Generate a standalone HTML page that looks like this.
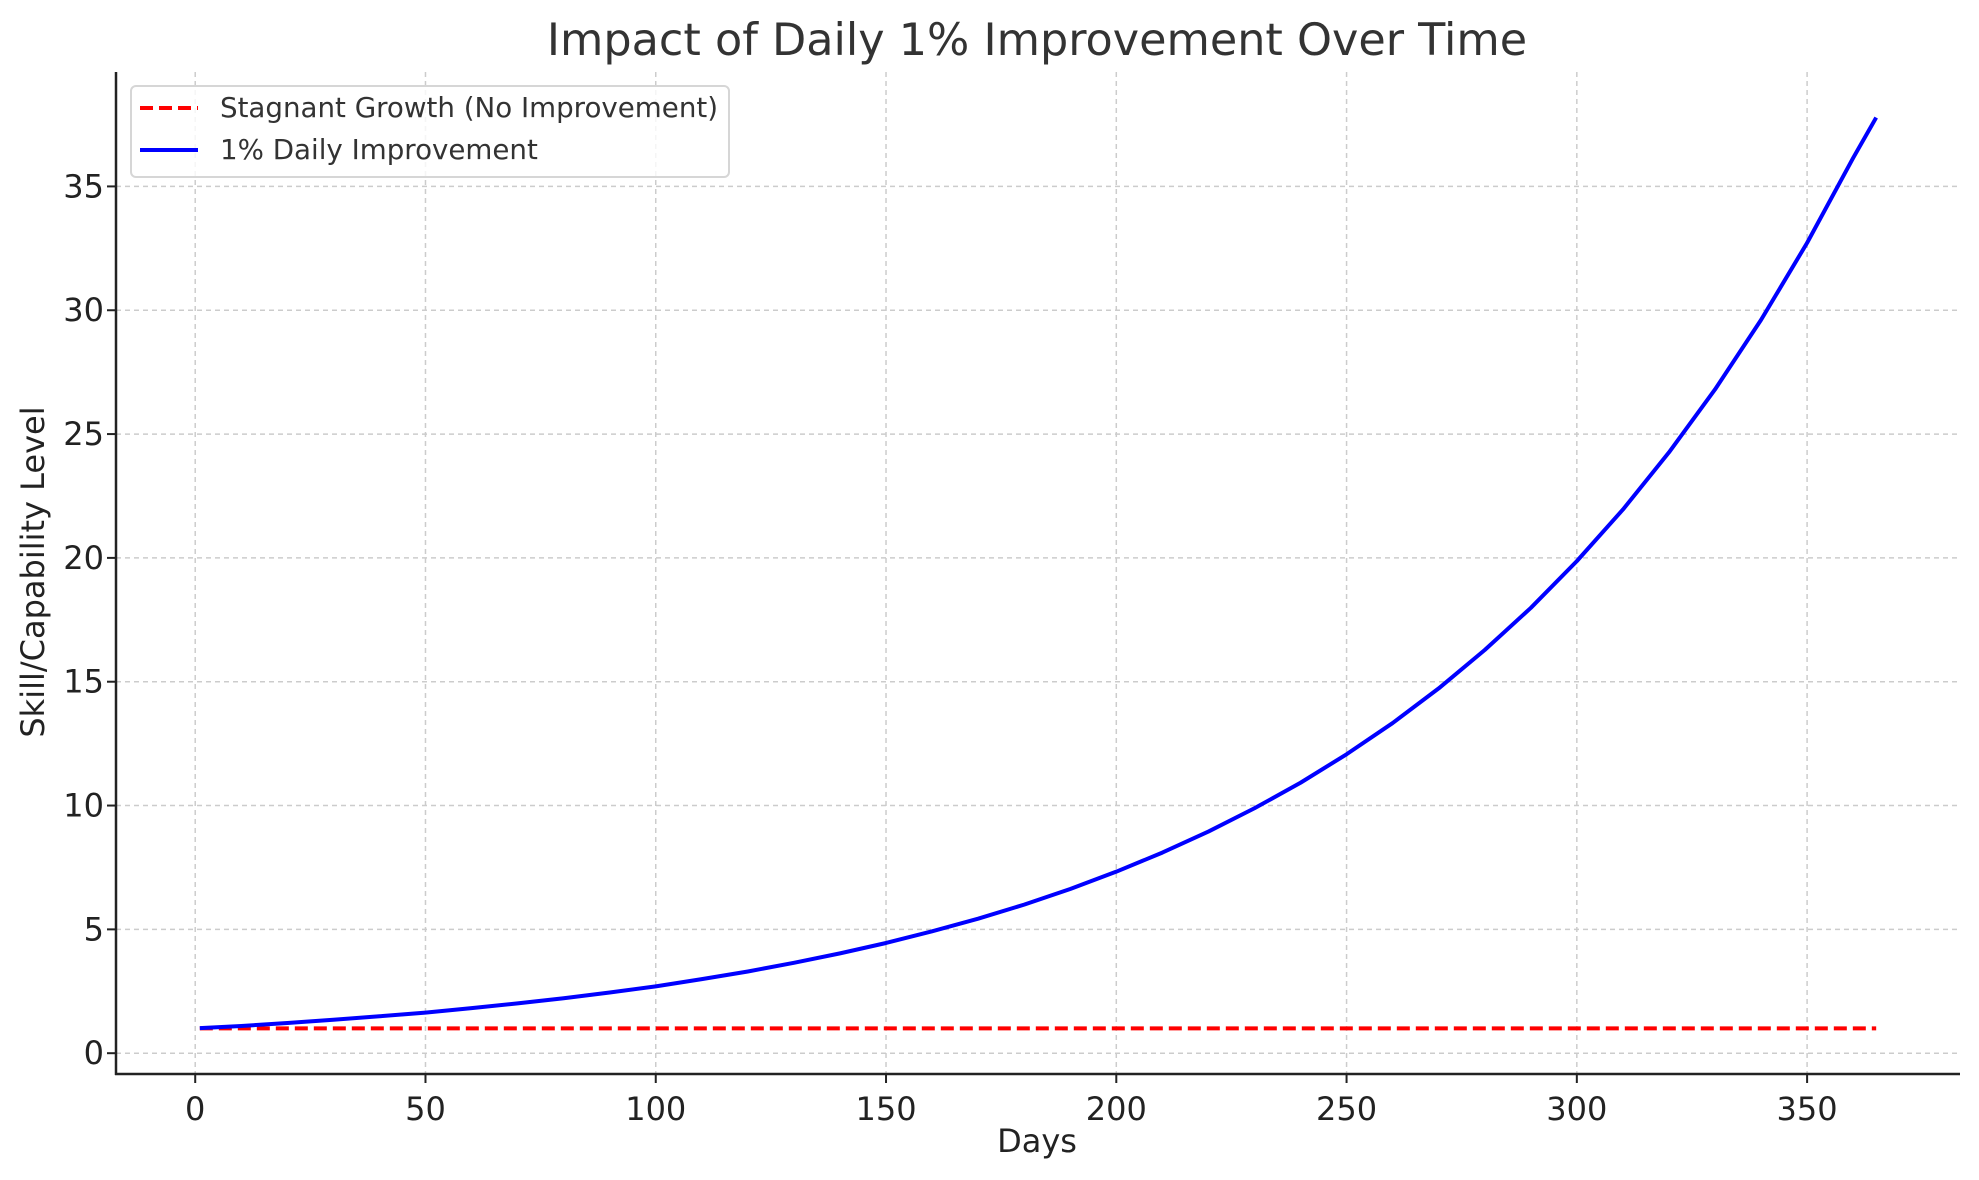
<!DOCTYPE html>
<html><head><meta charset="utf-8"><style>
html,body{margin:0;padding:0;background:#fff;}
svg{display:block;font-family:"DejaVu Sans","Liberation Sans",sans-serif;}
</style></head><body>
<svg id="chart" width="1979" height="1180" viewBox="0 0 1979 1180" xmlns="http://www.w3.org/2000/svg">
<rect width="1979" height="1180" fill="#fff"/>
<text x="1037" y="55" text-anchor="middle" font-size="44.5" fill="#333">Impact of Daily 1% Improvement Over Time</text>
<g id="grid"></g>
<g id="series"></g>
<g id="axes"></g>
<text x="1037" y="1152" text-anchor="middle" font-size="32" fill="#222">Days</text>
<text transform="translate(44,572) rotate(-90)" text-anchor="middle" font-size="32" fill="#222">Skill/Capability Level</text>
<g>
<rect x="131" y="86" width="598" height="91" rx="5" fill="#fff" fill-opacity="0.8" stroke="#d6d6d6" stroke-width="2"/>
<line x1="140" y1="108" x2="198" y2="108" stroke="#ff0000" stroke-width="4" stroke-dasharray="13,6"/>
<text x="220" y="117" font-size="27.7" fill="#333">Stagnant Growth (No Improvement)</text>
<line x1="140" y1="150" x2="198" y2="150" stroke="#0000ff" stroke-width="4"/>
<text x="220" y="159" font-size="27.7" fill="#333">1% Daily Improvement</text>
</g>
</svg>
<script>
const days = [1,10,20,30,40,50,60,70,80,90,100,110,120,130,140,150,160,170,180,190,200,210,220,230,240,250,260,270,280,290,300,310,320,330,340,350,360,365];
const improvement = [1.01,1.10,1.22,1.35,1.49,1.64,1.82,2.01,2.22,2.45,2.70,2.99,3.30,3.65,4.03,4.45,4.92,5.43,6.00,6.63,7.33,8.10,8.95,9.89,10.92,12.07,13.33,14.73,16.28,17.98,19.87,21.95,24.26,26.80,29.61,32.72,36.15,37.78];
const stagnantDays = [1,365];
const stagnant = [1,1];
const xTicks = [0,50,100,150,200,250,300,350];
const yTicks = [0,5,10,15,20,25,30,35];

const NS="http://www.w3.org/2000/svg";
const L=116,R=1960,T=72,B=1074;
const xMin=-17.2,xMax=383.2,yMin=-0.84,yMax=39.62;
function xs(v){return L+(v-xMin)/(xMax-xMin)*(R-L);}
function ys(v){return B-(v-yMin)/(yMax-yMin)*(B-T);}
function mk(tag,attrs,parent){const e=document.createElementNS(NS,tag);for(const k in attrs)e.setAttribute(k,attrs[k]);parent.appendChild(e);return e;}
const grid=document.getElementById('grid'),axes=document.getElementById('axes'),series=document.getElementById('series');

xTicks.forEach(t=>{
  const x=xs(t);
  const g=mk('line',{x1:x,y1:T,x2:x,y2:B,stroke:'#cccccc','stroke-width':1.5,'stroke-dasharray':'5,4'},grid);
  
  
  const tk=mk('line',{x1:x,y1:B,x2:x,y2:B+9,stroke:'#222','stroke-width':2},axes);
  
  
  const lb=mk('text',{x:x,y:B+46,'text-anchor':'middle','font-size':32,fill:'#222'},axes);
  lb.textContent=t;
  
  
});
yTicks.forEach(t=>{
  const y=ys(t);
  const g=mk('line',{x1:L,y1:y,x2:R,y2:y,stroke:'#cccccc','stroke-width':1.5,'stroke-dasharray':'5,4'},grid);
  
  
  const tk=mk('line',{x1:L-9,y1:y,x2:L,y2:y,stroke:'#222','stroke-width':2},axes);
  
  
  const lb=mk('text',{x:104,y:y+11,'text-anchor':'end','font-size':32,fill:'#222'},axes);
  lb.textContent=t;
  
  
});
const sp1=mk('line',{x1:L,y1:T,x2:L,y2:B+1,stroke:'#222','stroke-width':2.5},axes);


const sp2=mk('line',{x1:L-1,y1:B,x2:R,y2:B,stroke:'#222','stroke-width':2.5},axes);



const red=mk('polyline',{points:stagnantDays.map((d,i)=>xs(d)+','+ys(stagnant[i])).join(' '),fill:'none',stroke:'#ff0000','stroke-width':4,'stroke-dasharray':'13,6'},series);


const blue=mk('polyline',{points:days.map((d,i)=>xs(d)+','+ys(improvement[i])).join(' '),fill:'none',stroke:'#0000ff','stroke-width':4,'stroke-linejoin':'round'},series);


</script>
</body></html>
